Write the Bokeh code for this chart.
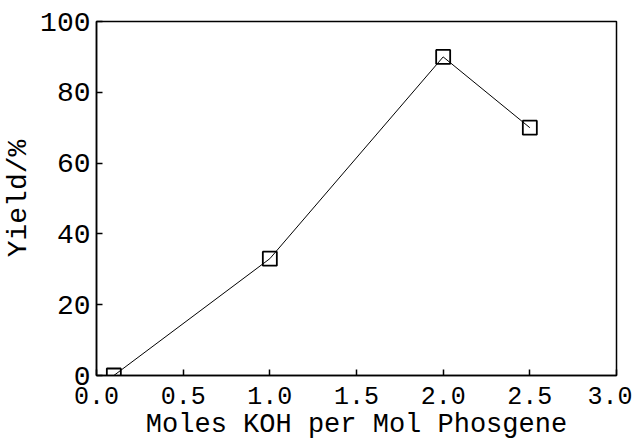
from bokeh.plotting import figure
from bokeh.models import Range1d, FixedTicker
from bokeh.embed import file_html
from bokeh.resources import INLINE

# Data
moles_koh = [0.1, 1.0, 2.0, 2.5]
yield_pct = [0, 33, 90, 70]

x_ticks = [0.0, 0.5, 1.0, 1.5, 2.0, 2.5, 3.0]
x_tick_labels = ["0.0", "0.5", "1.0", "1.5", "2.0", "2.5", "3.0"]
y_ticks = [0, 20, 40, 60, 80, 100]
y_tick_labels = ["0", "20", "40", "60", "80", "100"]

x_title = "Moles KOH per Mol Phosgene"
y_title = "Yield/%"

FONT = "Liberation Mono"

p = figure(width=632, height=442, output_backend="svg", toolbar_location=None,
           x_range=Range1d(0, 3), y_range=Range1d(0, 100),
           min_border_left=96, min_border_right=16, min_border_top=21, min_border_bottom=67)

p.background_fill_color = "white"
p.border_fill_color = "white"
p.xgrid.visible = False
p.ygrid.visible = False
p.outline_line_color = "black"
p.outline_line_width = 1.5
p.outline_line_alpha = 1.0

p.line(moles_koh, yield_pct, line_color="black", line_width=1)
p.scatter(moles_koh, yield_pct, marker="square", size=14, fill_color=None,
          line_color="black", line_width=1.8)

p.xaxis.ticker = FixedTicker(ticks=x_ticks)
p.xaxis.major_label_overrides = {t: l for t, l in zip(x_ticks, x_tick_labels)}
p.yaxis.ticker = FixedTicker(ticks=y_ticks)
p.yaxis.major_label_overrides = {t: l for t, l in zip(y_ticks, y_tick_labels)}

for ax in (p.xaxis, p.yaxis):
    ax.axis_line_color = "black"
    ax.axis_line_width = 1.5
    ax.major_tick_line_color = "black"
    ax.major_tick_line_width = 1.5
    ax.minor_tick_line_color = None
    ax.major_tick_out = 0
    ax.major_tick_in = 6
    ax.major_label_text_font = FONT
    ax.major_label_text_color = "black"
    ax.axis_label_text_font = FONT
    ax.axis_label_text_font_style = "normal"
    ax.axis_label_text_color = "black"

p.xaxis.axis_label = x_title
p.yaxis.axis_label = y_title
p.xaxis.major_label_text_font_size = "25px"
p.yaxis.major_label_text_font_size = "28px"
p.xaxis.axis_label_text_font_size = "27px"
p.yaxis.axis_label_text_font_size = "28px"
p.xaxis.major_label_standoff = 11
p.yaxis.major_label_standoff = 6
p.xaxis.axis_label_standoff = 3
p.yaxis.axis_label_standoff = 3

open("out.html", "w").write(file_html(p, INLINE))
